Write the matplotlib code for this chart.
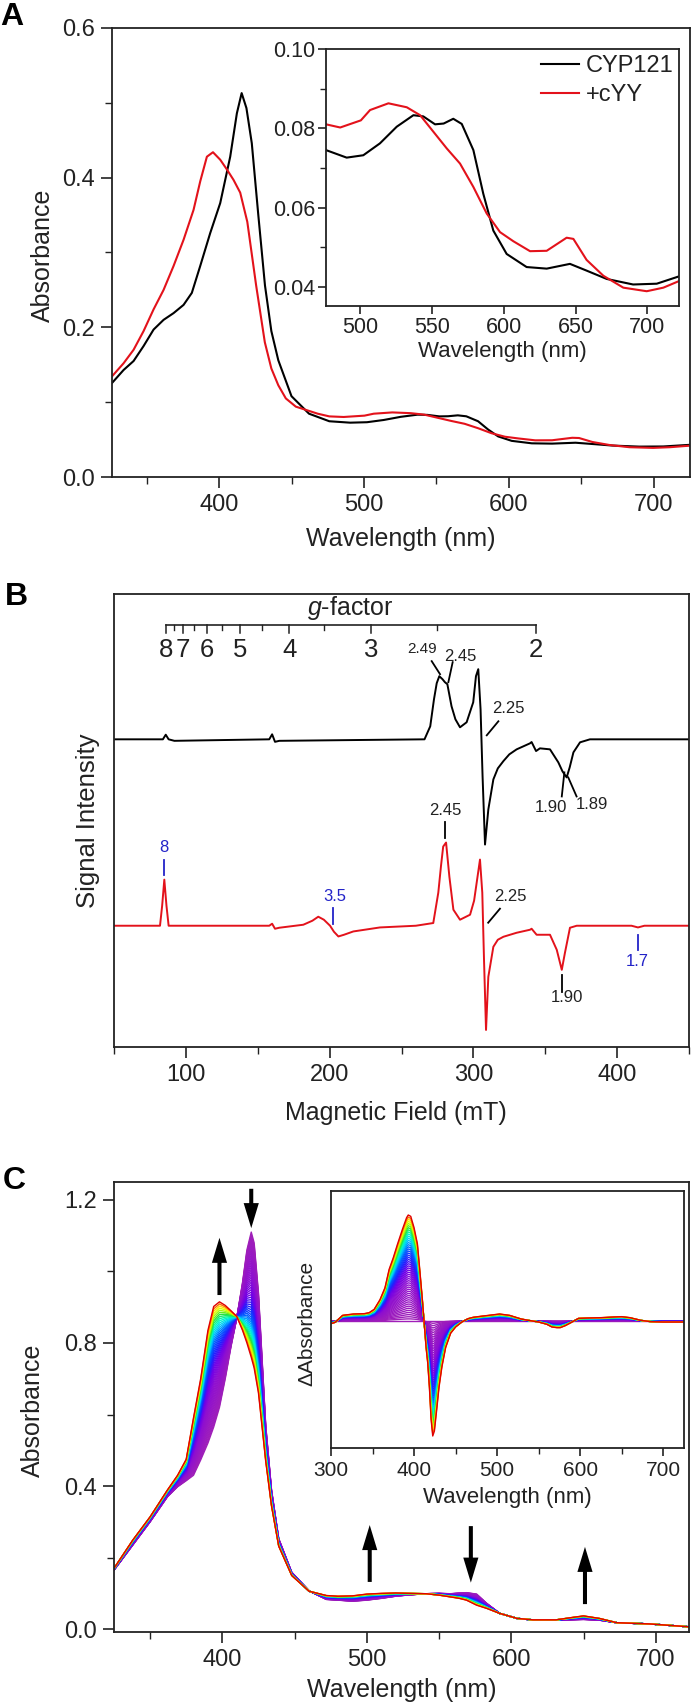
import numpy as np
import matplotlib.pyplot as plt
from matplotlib.colors import LinearSegmentedColormap
from matplotlib.ticker import MultipleLocator

plt.rcParams['font.family'] = ['Liberation Sans', 'DejaVu Sans']
plt.rcParams['mathtext.fontset'] = 'custom'
plt.rcParams['mathtext.it'] = 'Liberation Sans:italic'
plt.rcParams['mathtext.rm'] = 'Liberation Sans'

W, H = 693, 1705
INK = '#222222'
RED = '#e3121b'
BLUE = '#2323c8'

# ---------------- panel A : UV-vis, CYP121 +/- cYY ----------------
a_wl_black = [326, 334, 340.9, 347.8, 354.7, 361.6, 368.5, 375.4, 381.1, 386.9, 393.8, 400.7,
              407.6, 412.2, 415.5, 418.8, 422.5, 427, 431.6, 436, 440.8, 449.9, 462, 476,
              490.4, 502, 513.6, 525.3, 536.9, 543.8, 552, 558, 564.7, 570.6, 578.7, 585.6,
              592.6, 601.9, 615.8, 629.8, 646, 657.6, 671.6, 690, 706.5, 721.6, 725]
a_black = [0.1256, 0.143, 0.155, 0.175, 0.197, 0.210, 0.219, 0.230, 0.246, 0.282, 0.326, 0.366,
           0.428, 0.486, 0.513, 0.493, 0.446, 0.35, 0.256, 0.195, 0.156, 0.108, 0.0846, 0.0745,
           0.0726, 0.0732, 0.0762, 0.0804, 0.0833, 0.0830, 0.0810, 0.0812, 0.0824, 0.0811,
           0.0745, 0.0635, 0.0542, 0.0483, 0.0450, 0.0446, 0.0458, 0.0441, 0.0420, 0.0406,
           0.0408, 0.0426, 0.0430]

a_wl_red = [326, 334, 340.9, 347.8, 354.7, 361.6, 368.5, 375.4, 382.3, 386.9, 391.5, 395.7,
            400.7, 405.3, 409.9, 414.5, 419.4, 425.5, 431.5, 436, 440.8, 446, 452.9, 468, 476,
            485.9, 500.3, 506.7, 519.5, 532.3, 541.6, 550.9, 560.2, 569.4, 578.7, 588, 597.3,
            606.6, 618.2, 629.8, 643.7, 648.4, 657.6, 669.3, 683.2, 699.5, 711.1, 721.6, 725]
a_red = [0.1345, 0.152, 0.170, 0.195, 0.224, 0.250, 0.282, 0.317, 0.357, 0.395, 0.428, 0.434,
         0.424, 0.411, 0.397, 0.380, 0.341, 0.256, 0.180, 0.145, 0.1226, 0.105, 0.094, 0.0846,
         0.0810, 0.0802, 0.0820, 0.0846, 0.0863, 0.0853, 0.0833, 0.0791, 0.0749, 0.0711,
         0.0652, 0.0585, 0.0538, 0.0515, 0.0490, 0.0491, 0.0524, 0.0521, 0.0468, 0.0428,
         0.0398, 0.0389, 0.0398, 0.0414, 0.0418]

# ---------------- panel B : EPR ----------------
b_field_black = [50, 84, 86, 88, 92, 158, 160, 162, 165, 266, 270, 272.6, 274.5, 276.3, 278.5,
                 280.2, 281.9, 284.8, 287.5, 290.7, 295.3, 299.9, 301.8, 303.4, 305, 306.4,
                 308.1, 310.4, 313.9, 317, 320.9, 325, 330.1, 339.4, 340.5, 343.6, 346.3, 353.3,
                 359.1, 362, 364.9, 367, 369.6, 374.2, 381.1, 450]
b_black = [0, 0, 4.6, 0, -1.5, 0, 5, -2.5, -1.5, 0, 13, 40, 56, 63, 60, 57, 55, 33, 20, 12, 17,
           37, 63, 70, 30, -37, -105, -70, -40, -29, -21.7, -15, -10, -4, -2.7, -11.7, -9, -10,
           -23, -32, -38, -28, -13, -3, 0, 0]

b_field_red = [50, 82, 83.5, 85, 86.5, 88, 158, 160, 162, 165, 181.7, 188, 192.1, 196, 200.3,
               203, 206.1, 210, 216.5, 235, 260, 272.1, 275.6, 277.5, 279, 281, 283.3, 286.1,
               290.7, 297.7, 300.5, 302.3, 304.6, 306.2, 307.4, 308.8, 310.4, 313.9, 317,
               320.9, 330.1, 339.4, 340.5, 344, 353.3, 358, 361.5, 363.7, 367.2, 371.9, 410,
               414.5, 419, 450]
b_red = [0, 0, 20, 46, 20, 0, 0, 2, -3, -2, 1, 5, 9, 6, 0, -6, -10.7, -9, -5.7, -1.7, 0, 2.7,
         33, 60, 79, 83, 49, 16, 6, 11, 25, 43, 66, 33, -34, -104, -51, -21, -14, -11, -7, -4,
         -3, -9, -9, -24, -44, -27, -2, 0, 0, -1.7, 0, 0]
b_red_offset = -186

g_major = [8, 7, 6, 5, 4, 3, 2]
g_minor = [7.5, 6.5, 5.5, 4.5, 3.5, 2.5]
g_const = 687.2     # field (mT) = g_const / g at this microwave frequency

# label text, field, y of text, line (x0, y0, x1, y1), colour, size
b_labels = [
    ('2.49', 264.5, 90, (271.0, 78, 276.8, 65), INK, 11),
    ('2.45', 291.2, 83, (285.6, 77, 282.6, 57), INK, 12),
    ('2.25', 324.3, 31, (317.4, 18, 309.3, 4), INK, 12),
    ('1.90', 353.8, -68, (363.3, -33, 361.5, -57), INK, 12),
    ('1.89', 382.3, -65, (366.0, -38, 371.8, -57), INK, 12),
    ('2.45', 280.3, -71, (280.3, -82, 280.3, -98), INK, 12),
    ('2.25', 325.5, -157, (318.5, -169, 310.3, -183), INK, 12),
    ('1.90', 365.4, -258, (361.9, -235, 361.9, -252), INK, 12),
    ('8', 85.0, -108, (85.0, -120, 85.0, -135), BLUE, 12),
    ('3.5', 203.7, -157, (202.1, -168, 202.1, -184), BLUE, 12),
    ('1.7', 413.7, -222, (414.2, -195, 414.2, -210), BLUE, 12),
]

# ---------------- panel C : titration ----------------
c_wl = [325, 338, 350, 362, 369, 375, 380, 385, 390, 394, 398, 402, 406, 410, 414, 417, 420,
        422, 425, 430, 434, 439, 448, 460, 472, 480, 490, 500, 510, 520, 530, 541, 550, 558,
        564, 569, 576, 583, 592, 604, 615, 631, 641, 650, 661, 673, 696, 723]
c_start = [0.165, 0.235, 0.300, 0.370, 0.398, 0.415, 0.430, 0.473, 0.520, 0.565, 0.620, 0.700,
           0.790, 0.870, 0.970, 1.060, 1.110, 1.080, 0.940, 0.570, 0.390, 0.253, 0.159, 0.107,
           0.083, 0.081, 0.078, 0.081, 0.086, 0.092, 0.096, 0.099, 0.100, 0.099, 0.101, 0.102,
           0.098, 0.072, 0.044, 0.030, 0.0256, 0.025, 0.026, 0.027, 0.025, 0.018, 0.0145, 0.0065]
c_end = [0.170, 0.249, 0.314, 0.389, 0.430, 0.475, 0.590, 0.700, 0.835, 0.902, 0.915, 0.905,
         0.890, 0.874, 0.835, 0.800, 0.760, 0.730, 0.660, 0.470, 0.345, 0.232, 0.150, 0.106,
         0.094, 0.092, 0.093, 0.098, 0.100, 0.101, 0.100, 0.099, 0.095, 0.090, 0.086, 0.081,
         0.067, 0.058, 0.044, 0.030, 0.026, 0.026, 0.032, 0.037, 0.030, 0.018, 0.0145, 0.0065]

d_wl = [300, 305, 314, 327, 340, 346, 352, 359, 365, 370, 375, 380, 386, 391, 393, 396, 400,
        404, 407, 410, 412, 414.5, 416.5, 418.5, 420.5, 422.5, 424.5, 427, 430, 433.5, 438,
        444, 450, 457.5, 465, 471, 480, 490, 503, 515, 529, 540, 550, 560, 566, 572, 576, 582,
        588, 598, 610, 625, 640, 650, 660, 673, 685, 700, 725]
d_end = [-0.008, -0.004, 0.017, 0.021, 0.022, 0.025, 0.035, 0.064, 0.10, 0.155, 0.19, 0.23,
         0.275, 0.310, 0.318, 0.314, 0.28, 0.232, 0.15, 0.064, 0.0, -0.08, -0.127, -0.20,
         -0.295, -0.345, -0.33, -0.272, -0.20, -0.138, -0.08, -0.037, -0.018, -0.003, 0.007,
         0.011, 0.014, 0.017, 0.021, 0.017, 0.006, 0.001, -0.003, -0.010, -0.018, -0.020,
         -0.020, -0.014, -0.006, 0.008, 0.009, 0.010, 0.012, 0.013, 0.010, 0.002, -0.002,
         -0.003, -0.003]

# fraction of the full change reached in each scan
progress = [0.00, 0.02, 0.04, 0.06, 0.08, 0.10, 0.12, 0.14, 0.16, 0.18, 0.20, 0.22, 0.24,
            0.26, 0.28, 0.30, 0.32, 0.34, 0.36, 0.38, 0.40, 0.42, 0.44, 0.46, 0.48, 0.50,
            0.52, 0.54, 0.56, 0.58, 0.60, 0.62, 0.64, 0.66, 0.68, 0.70, 0.72, 0.74, 0.76,
            0.78, 0.80, 0.82, 0.84, 0.86, 0.88, 0.90, 0.92, 0.94, 0.96, 0.98, 1.00]

# arrows: wavelength, tail, head
c_arrows = [(398, 0.934, 1.094), (420, 1.231, 1.121), (502, 0.132, 0.291),
            (572, 0.288, 0.130), (651, 0.070, 0.230)]

scan_cmap = LinearSegmentedColormap.from_list('scan', [
    (0.0, '#a020b8'), (0.35, '#9010d0'), (0.5, '#7000e8'), (0.6, '#2020ff'),
    (0.7, '#0060ff'), (0.77, '#00c8ff'), (0.83, '#00ffc0'), (0.88, '#20e040'),
    (0.93, '#c0ff00'), (0.955, '#ffff00'), (0.975, '#ff9000'), (1.0, '#e00000')])


def rect(l, t, r, b):
    return [l / W, 1 - b / H, (r - l) / W, (b - t) / H]


def ftext(x, y, s, **kw):
    kw.setdefault('ha', 'center')
    kw.setdefault('va', 'center')
    kw.setdefault('color', INK)
    fig.text(x / W, 1 - y / H, s, **kw)


def style(ax, size=17, major=8, minor=5, pad=4):
    for sp in ax.spines.values():
        sp.set_linewidth(1.3)
        sp.set_color(INK)
    ax.tick_params(which='major', direction='out', length=major, width=1.2, labelsize=size,
                   pad=pad, colors=INK, top=False, right=False)
    ax.tick_params(which='minor', direction='out', length=minor, width=1.0, colors=INK,
                   top=False, right=False)


fig = plt.figure(figsize=(W / 100, H / 100), dpi=100)

# ---- A main
ax_a = fig.add_axes(rect(112, 28, 690, 477))
ax_a.plot(a_wl_black, a_black, color='k', lw=1.5)
ax_a.plot(a_wl_red, a_red, color=RED, lw=1.5)
ax_a.set_xlim(326, 725)
ax_a.set_ylim(0, 0.6)
ax_a.xaxis.set_major_locator(MultipleLocator(100))
ax_a.xaxis.set_minor_locator(MultipleLocator(50))
ax_a.yaxis.set_major_locator(MultipleLocator(0.2))
ax_a.yaxis.set_minor_locator(MultipleLocator(0.1))
ax_a.yaxis.set_major_formatter(lambda v, p: f'{v:.1f}')
style(ax_a)

# ---- A inset
ax_ai = fig.add_axes(rect(326, 49, 679, 305.5))
ax_ai.plot(a_wl_black, a_black, color='k', lw=1.5, label='CYP121')
ax_ai.plot(a_wl_red, a_red, color=RED, lw=1.5, label='+cYY')
ax_ai.set_xlim(476, 722)
ax_ai.set_ylim(0.0353, 0.10)
ax_ai.xaxis.set_major_locator(MultipleLocator(50))
ax_ai.yaxis.set_major_locator(MultipleLocator(0.02))
ax_ai.yaxis.set_minor_locator(MultipleLocator(0.01))
ax_ai.yaxis.set_major_formatter(lambda v, p: f'{v:.2f}')
style(ax_ai, size=15.5, major=6, minor=4, pad=2)
ax_ai.legend(loc='upper right', bbox_to_anchor=(0.985, 0.975), frameon=False, fontsize=17,
             handlelength=1.6, handletextpad=0.3, labelspacing=0.3, borderaxespad=0,
             borderpad=0, labelcolor=INK)
ftext(502, 352, 'Wavelength (nm)', fontsize=16)

ftext(12, 17, 'A', fontsize=23, fontweight='bold', color='k')
ftext(43, 255, 'Absorbance', fontsize=18, rotation=90)
ftext(401, 539, 'Wavelength (nm)', fontsize=18)

# ---- B
ax_b = fig.add_axes(rect(114, 594, 689, 1047))
ax_b.plot(b_field_black, b_black, color='k', lw=1.4)
ax_b.plot(b_field_red, np.array(b_red) + b_red_offset, color=RED, lw=1.4)
ax_b.set_xlim(50, 450)
ax_b.set_ylim(-307, 145)
ax_b.set_yticks([])
ax_b.xaxis.set_major_locator(MultipleLocator(100))
ax_b.xaxis.set_minor_locator(MultipleLocator(50))
style(ax_b)

# g-factor scale drawn inside panel B
g_y = 114
ax_b.plot([g_const / 8, g_const / 2], [g_y, g_y], color=INK, lw=1.2)
for g in g_major:
    ax_b.plot([g_const / g] * 2, [g_y, g_y - 8], color=INK, lw=1.1)
    ax_b.text(g_const / g, g_y - 25, str(g), ha='center', va='center', fontsize=18.5, color=INK)
for g in g_minor:
    ax_b.plot([g_const / g] * 2, [g_y, g_y - 5], color=INK, lw=1.0)
ax_b.text(214, 131, r'$\mathit{g}$-factor', ha='center', va='center', fontsize=18, color=INK)

for txt, x, y, (x0, y0, x1, y1), col, fs in b_labels:
    ax_b.text(x, y, txt, ha='center', va='center', fontsize=fs, color=col)
    ax_b.plot([x0, x1], [y0, y1], color=col if col == BLUE else 'k', lw=1.3)

ftext(16, 597, 'B', fontsize=23, fontweight='bold', color='k')
ftext(88, 821, 'Signal Intensity', fontsize=18.5, rotation=90)
ftext(396, 1113, 'Magnetic Field (mT)', fontsize=18)

# ---- C main
c_start_a = np.array(c_start)
c_end_a = np.array(c_end)
ax_c = fig.add_axes(rect(114, 1182, 689, 1632))
for f in progress:
    ax_c.plot(c_wl, c_start_a + f * (c_end_a - c_start_a), color=scan_cmap(f), lw=1.0)
for x, y0, y1 in c_arrows:
    ax_c.arrow(x, y0, 0, y1 - y0, width=2.8, head_width=10.5, head_length=0.07,
               length_includes_head=True, color='k', lw=0, zorder=5)
ax_c.set_xlim(325, 723)
ax_c.set_ylim(-0.008, 1.25)
ax_c.xaxis.set_major_locator(MultipleLocator(100))
ax_c.xaxis.set_minor_locator(MultipleLocator(50))
ax_c.yaxis.set_major_locator(MultipleLocator(0.4))
ax_c.yaxis.set_minor_locator(MultipleLocator(0.2))
ax_c.yaxis.set_major_formatter(lambda v, p: f'{v:.1f}')
style(ax_c)

# ---- C inset (difference spectra)
d_end_a = np.array(d_end)
ax_ci = fig.add_axes(rect(331, 1191, 684, 1448))
for f in progress:
    ax_ci.plot(d_wl, f * d_end_a, color=scan_cmap(f), lw=1.0)
ax_ci.set_xlim(300, 725)
ax_ci.set_ylim(-0.381, 0.39)
ax_ci.set_yticks([])
ax_ci.xaxis.set_major_locator(MultipleLocator(100))
ax_ci.xaxis.set_minor_locator(MultipleLocator(50))
style(ax_ci, size=15, major=6, minor=4, pad=3)
ftext(507, 1498, 'Wavelength (nm)', fontsize=16)
ftext(307, 1323, '\u0394Absorbance', fontsize=15, rotation=90)

ftext(14, 1181, 'C', fontsize=23, fontweight='bold', color='k')
ftext(33, 1410, 'Absorbance', fontsize=18, rotation=90)
ftext(402, 1690, 'Wavelength (nm)', fontsize=18)

fig.savefig('out.png', dpi=100)
